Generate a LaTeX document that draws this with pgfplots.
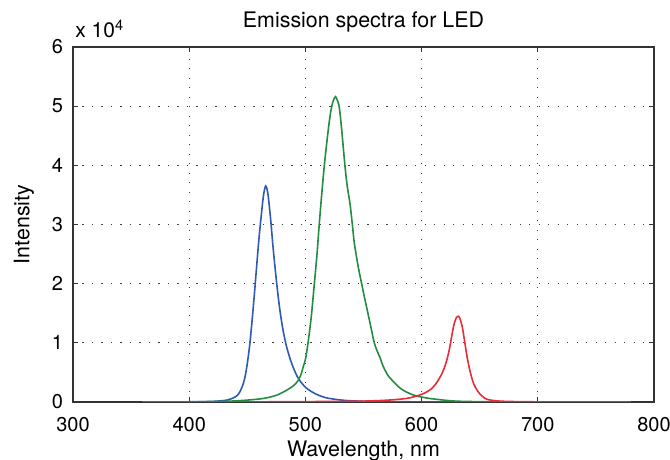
\documentclass[border=0pt]{standalone}
\usepackage{fontspec}
\setmainfont{TeX Gyre Heros}
\usepackage{pgfplots}
\usepackage{pgfplotstable}
\pgfplotsset{compat=1.18}
\usetikzlibrary{calc}

\definecolor{ledblue}{RGB}{45,90,180}
\definecolor{ledgreen}{RGB}{35,140,65}
\definecolor{ledred}{RGB}{232,45,55}

% wavelength (nm), intensity
\pgfplotstableread{
wl I
360 0
400 30
420 100
430 250
435 450
440 900
443 1500
446 2800
448 4200
450 6500
452 9500
454 13500
456 18000
458 22800
460 27500
462 31500
464 35000
465.8 36500
467.5 35500
469 33000
470.5 30000
472 26500
474 22500
476 18800
478 15600
480 13000
482 10900
484 9200
487 7200
490 5600
493 4300
496 3400
500 2500
504 1900
510 1250
515 880
520 620
532 300
545 150
560 70
600 20
650 0
780 0
}\blueled

\pgfplotstableread{
wl I
360 0
400 20
420 60
440 180
455 400
464 600
470 850
476 1200
484 2000
490 2800
494 3700
496.5 4800
498.2 6000
500 7200
502 9600
505 14300
507.7 20000
510 25000
511.7 29500
514 35000
516.3 40000
518.5 44000
520.5 47300
522 49300
523.5 50600
525 51400
526 51600
527 51200
529 50000
531 46500
534 40000
536 36500
538.4 33500
540.4 30000
542 27000
544 24500
546 22300
548.4 20000
550.5 18000
552.7 16000
556 13000
559.3 10000
562 8500
564.2 7500
567 6000
571 4500
574 3800
577 3200
580 2600
584 2000
590 1400
596 1000
605 650
613 450
625 200
636 100
660 30
700 0
780 0
}\greenled

\pgfplotstableread{
wl I
360 0
450 20
500 60
550 150
570 300
580 450
587 600
593 850
598 1150
603 1550
608 2150
612 3000
615 3900
618 5000
620 6000
622 7300
624 9000
626 11200
628 13200
630 14300
631.6 14500
633 14100
635 12700
637 10300
639 7800
641 5800
643 4200
645 3000
647.4 2100
650 1400
654.6 600
660 300
670 120
690 40
720 10
780 0
}\redled

\begin{document}
\fontsize{10}{12}\selectfont
\begin{tikzpicture}
\begin{axis}[
    scale only axis,
    width=290.5pt, height=177.5pt,
    xmin=300, xmax=800, ymin=0, ymax=60000,
    xtick={300,400,...,800},
    ytick={0,10000,...,60000},
    scaled y ticks=false,
    yticklabels={0,1,2,3,4,5,6},
    /pgf/number format/assume math mode=true,
    tick align=inside,
    major tick length=2.5pt,
    tick style={black!80, line width=0.5pt},
    axis line style={black!80, line width=0.6pt},
    grid=major,
    major grid style={black!75, line width=0.55pt, dash pattern=on 0.55pt off 4.2pt},
    xticklabel style={font=\fontsize{10}{12}\selectfont, yshift=-4pt},
    yticklabel style={font=\fontsize{10}{12}\selectfont, xshift=-1.5pt},
    title={Emission spectra for LED},
    title style={font=\fontsize{10.7}{12}\selectfont, yshift=-2pt},
    xlabel={Wavelength, nm},
    ylabel={Intensity},
    label style={font=\fontsize{10.7}{12}\selectfont},
    xlabel style={yshift=2pt},
    ylabel style={yshift=2pt},
    every axis plot/.append style={line width=0.8pt, smooth, tension=0.5},
]
\addplot[ledblue] table[x=wl, y=I] {\blueled};
\addplot[ledgreen] table[x=wl, y=I] {\greenled};
\addplot[ledred] table[x=wl, y=I] {\redled};
\end{axis}
\node[anchor=base west, inner sep=0pt, font=\fontsize{10.5}{12}\selectfont]
  at ($(current axis.north west)+(1pt,4.5pt)$) {x 10\textsuperscript{4}};
\pgfresetboundingbox
\path[use as bounding box] ($(current axis.south west)+(-36.5pt,-29pt)$) rectangle ($(current axis.north east)+(8pt,23.5pt)$);
\end{tikzpicture}
\end{document}
